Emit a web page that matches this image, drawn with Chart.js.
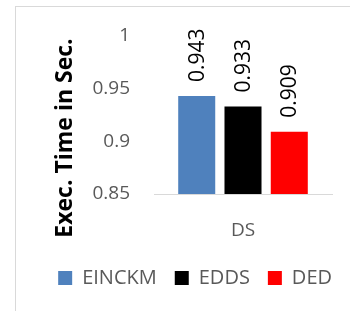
<!DOCTYPE html>
<html>
<head>
    <title></title>
    <script src="https://cdn.jsdelivr.net/npm/chart.js@4.4.0/dist/chart.umd.min.js"></script>
    <style>
        body { margin: 0; background: #fff; }
        #frame { position: absolute; left: 15px; top: 6px; width: 340px; height: 310px; border-left: 1px solid #d9d9d9; border-top: 1px solid #d9d9d9; }
        #wrap { position: absolute; left: 0; top: 0; width: 350px; height: 311px; }
    </style>
</head>
<body>
    <div id="frame"></div>
    <div id="wrap">
        <canvas id="myChart" width="350" height="311"></canvas>
    </div>
    <script>
        var categories = ["DS"];
        var seriesNames = ["EINCKM", "EDDS", "DED"];
        var seriesValues = [[0.943], [0.933], [0.909]];
        var seriesColors = ["#4f81bd", "#000000", "#ff0000"];
        var yTicks = [0.85, 0.9, 0.95, 1];
        var yTitle = "Exec. Time in Sec.";

        var font = "'Open Sans', sans-serif";

        // rotated value labels above each bar, plus the y axis title
        var barLabels = {
            id: "barLabels",
            afterUpdate: function(chart) {
                // legend row ends flush with the plot, drop its trailing padding
                chart.legend.left += 18;
                chart.legend.right += 18;
            },
            afterDatasetsDraw: function(chart) {
                var ctx = chart.ctx;
                ctx.save();
                ctx.font = "21px " + font;
                ctx.fillStyle = "#000";
                ctx.textAlign = "left";
                ctx.textBaseline = "middle";
                chart.data.datasets.forEach(function(ds, i) {
                    chart.getDatasetMeta(i).data.forEach(function(bar, j) {
                        ctx.save();
                        ctx.translate(bar.x + 1, bar.y - 14);
                        ctx.rotate(-Math.PI / 2);
                        ctx.fillText(ds.data[j].toFixed(3), 0, 0);
                        ctx.restore();
                    });
                });
                // axis title sits a bit lower than the plot centre, like the original
                ctx.font = "bold 23px " + font;
                ctx.textAlign = "center";
                ctx.translate(65, 138);
                ctx.rotate(-Math.PI / 2);
                ctx.fillText(yTitle, 0, 0);
                ctx.restore();
            }
        };

        var chart = new Chart(document.getElementById("myChart"), {
            type: "bar",
            data: {
                labels: categories,
                datasets: seriesNames.map(function(name, i) {
                    return {
                        label: name,
                        data: seriesValues[i],
                        backgroundColor: seriesColors[i],
                        barPercentage: 0.8,
                        categoryPercentage: 0.78
                    };
                })
            },
            options: {
                responsive: false,
                animation: false,
                layout: { padding: { left: 0, right: 18, top: 36, bottom: 13 } },
                plugins: {
                    tooltip: { enabled: false },
                    legend: {
                        position: "bottom",
                        align: "end",
                        labels: {
                            boxWidth: 14,
                            boxHeight: 14,
                            padding: 18,
                            color: "#595959",
                            font: { family: font, size: 20 }
                        }
                    }
                },
                scales: {
                    x: {
                        afterFit: function(scale) { scale.height = 56; },
                        grid: { display: false },
                        border: { display: true, color: "#d9d9d9", width: 1 },
                        ticks: { color: "#595959", padding: 17, font: { family: font, size: 19 } }
                    },
                    y: {
                        min: 0.85,
                        max: 1,
                        afterBuildTicks: function(scale) {
                            scale.ticks = yTicks.map(function(v) { return { value: v }; });
                        },
                        afterFit: function(scale) { scale.width = 154; },
                        grid: { display: false, drawTicks: false },
                        border: { display: false },
                        ticks: {
                            color: "#595959",
                            padding: 24,
                            font: { family: font, size: 19 },
                            callback: function(v) { return String(Math.round(v * 100) / 100); }
                        }
                    }
                }
            },
            plugins: [barLabels]
        });
    </script>
</body>
</html>
